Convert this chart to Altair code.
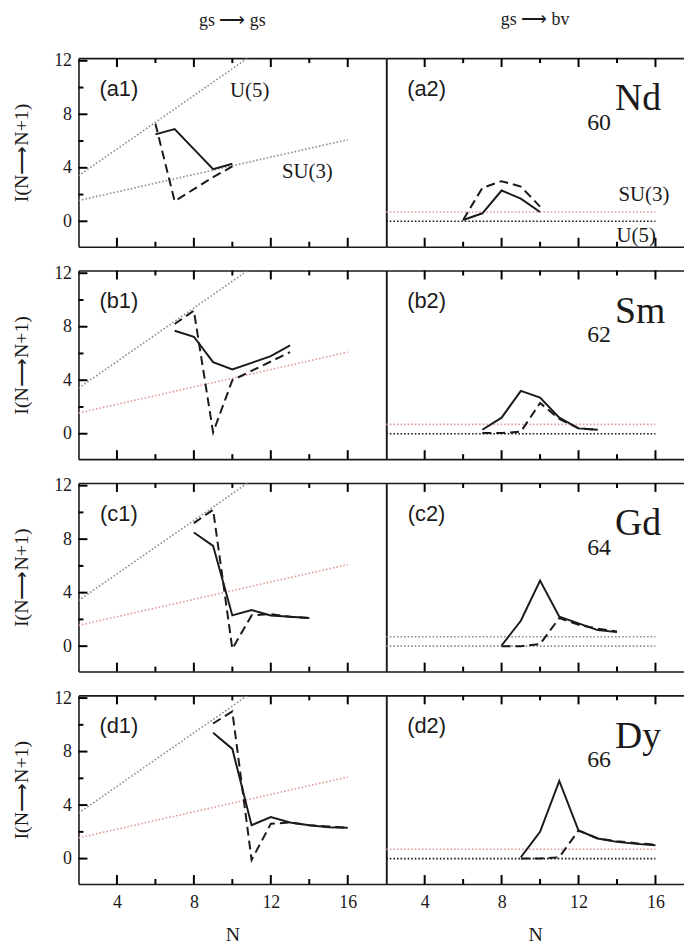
import altair as alt
import pandas as pd

SERIF = "Liberation Serif"
SANS = "Liberation Sans"
INK = "#1a1a1a"
GRAY = "#8c8c8c"
PINK = "#e59a9a"

ELEMENTS = ["Nd", "Sm", "Gd", "Dy"]
Z_LABELS = ["60", "62", "64", "66"]
ROW_TAGS = ["a", "b", "c", "d"]
COL_TITLES = ["gs \u27f6 gs", "gs \u27f6 bv"]
Y_TITLE = "I(N\u27f6N+1)"

# gs -> gs  (left column)
GG_N = [[6, 7, 8, 9, 10],
        [7, 8, 9, 10, 11, 12, 13],
        [8, 9, 10, 11, 12, 13, 14],
        [9, 10, 11, 12, 13, 14, 15, 16]]
GG_SOLID = [[6.5, 6.9, 5.4, 3.9, 4.3],
            [7.7, 7.25, 5.35, 4.8, 5.3, 5.8, 6.6],
            [8.5, 7.5, 2.3, 2.7, 2.3, 2.2, 2.1],
            [9.4, 8.2, 2.5, 3.1, 2.7, 2.5, 2.35, 2.3]]
GG_DASH = [[7.3, 1.5, 2.4, 3.3, 4.1],
           [8.2, 9.2, 0.1, 4.0, 4.7, 5.4, 6.1],
           [9.2, 10.2, -0.2, 2.3, 2.4, 2.2, 2.1],
           [10.1, 11.0, -0.1, 2.6, 2.7, 2.5, 2.4, 2.3]]

# gs -> bv  (right column)
GB_N = GG_N
GB_SOLID = [[0.1, 0.6, 2.3, 1.7, 0.7],
            [0.3, 1.2, 3.2, 2.7, 1.2, 0.4, 0.3],
            [0.05, 1.9, 4.9, 2.2, 1.7, 1.2, 1.05],
            [0.1, 2.0, 5.8, 2.1, 1.5, 1.25, 1.1, 1.0]]
GB_DASH = [[0.1, 2.5, 3.0, 2.6, 1.1],
           [0.05, 0.05, 0.15, 2.3, 1.1, 0.4, 0.3],
           [0.0, 0.0, 0.15, 2.1, 1.6, 1.3, 1.1],
           [0.0, 0.0, 0.1, 2.1, 1.5, 1.3, 1.15, 1.05]]

# symmetry limits
U5_GG_N = [2, 11]
U5_GG_I = [3.4, 12.4]
SU3_GG_N = [2, 16]
SU3_GG_I = [1.55, 6.1]
LIM_GB_N = [2, 16]
SU3_GB_I = [0.7, 0.7]
U5_GB_I = [0.0, 0.0]

SU3_GG_COLOR = [GRAY, PINK, PINK, PINK]
U5_GG_COLOR = [GRAY, GRAY, GRAY, GRAY]
SU3_GB_COLOR = [PINK, PINK, GRAY, PINK]
U5_GB_COLOR = [INK, INK, GRAY, INK]

# text annotations (first row only)
ANN_GG = {"t": ["U(5)", "SU(3)"], "N": [10.9, 13.9], "I": [9.75, 3.7]}
ANN_GB = {"t": ["SU(3)", "U(5)"], "N": [15.4, 15.0], "I": [2.0, -1.1]}
PANEL_LABEL_POS = (4.1, 9.9)
ELEM_POS = (13.9, 8.3)
Z_POS = (12.45, 6.85)

X_MAJ = [4, 8, 12, 16]
X_MIN = [6, 10, 14]
Y_MAJ = [0, 4, 8, 12]
Y_MIN = [2, 6, 10]
Y_DOM = [-1.9, 12.2]
W_LEFT, W_RIGHT, H = 310, 300, 190
XR_MAX = 2 + W_RIGHT * 16 / W_LEFT
MAJ, MINR = 9, 5          # tick lengths in px


def dom_axis(orient, values=None, labels=False, title=None, **kw):
    args = dict(orient=orient, domain=True, domainColor=INK, domainWidth=1.6,
                ticks=False, labels=labels, grid=False, minExtent=0, title=title)
    if values is not None:
        args["values"] = values
    args.update(kw)
    return alt.Axis(**args)


def panel(r, c):
    left = c == 0
    bottom = r == 3
    xdom = [2, 18] if left else [2, XR_MAX]
    W = W_LEFT if left else W_RIGHT
    xs = alt.Scale(domain=xdom, nice=False, zero=False)
    ys = alt.Scale(domain=Y_DOM, nice=False, zero=False)
    upx_y = (Y_DOM[1] - Y_DOM[0]) / H
    upx_x = (xdom[1] - xdom[0]) / W

    if bottom:
        xa0 = dom_axis("bottom", X_MAJ, labels=True, title="N", labelPadding=10, titlePadding=13)
    else:
        xa0 = dom_axis("bottom")
    x_axes = [xa0, dom_axis("top")]
    if left:
        y_axes = [dom_axis("left", Y_MAJ, labels=True, title=Y_TITLE,
                           labelPadding=7, titlePadding=22),
                  dom_axis("right")]
    else:
        y_axes = [dom_axis("left"), None]

    layers = []

    def add(chart_base, idx=None):
        xa = x_axes[idx] if idx is not None and idx < len(x_axes) else None
        ya = y_axes[idx] if idx is not None and idx < len(y_axes) else None
        layers.append(chart_base.encode(
            x=alt.X("N:Q", scale=xs, axis=xa),
            y=alt.Y("I:Q", scale=ys, axis=ya)))

    if left:
        ref1 = pd.DataFrame({"N": U5_GG_N, "I": U5_GG_I})
        ref2 = pd.DataFrame({"N": SU3_GG_N, "I": SU3_GG_I})
        col1, col2 = U5_GG_COLOR[r], SU3_GG_COLOR[r]
        Ns, sol, das = GG_N[r], GG_SOLID[r], GG_DASH[r]
        ann = ANN_GG if r == 0 else None
    else:
        ref1 = pd.DataFrame({"N": LIM_GB_N, "I": U5_GB_I})
        ref2 = pd.DataFrame({"N": LIM_GB_N, "I": SU3_GB_I})
        col1, col2 = U5_GB_COLOR[r], SU3_GB_COLOR[r]
        Ns, sol, das = GB_N[r], GB_SOLID[r], GB_DASH[r]
        ann = ANN_GB if r == 0 else None

    dot = dict(strokeWidth=1.6, strokeDash=[1.6, 2.0], clip=True)
    add(alt.Chart(ref1).mark_line(color=col1, **dot), 0)
    add(alt.Chart(ref2).mark_line(color=col2, **dot), 1)
    add(alt.Chart(pd.DataFrame({"N": Ns, "I": das})).mark_line(
        color=INK, strokeWidth=2.0, strokeDash=[9, 5], clip=True))
    add(alt.Chart(pd.DataFrame({"N": Ns, "I": sol})).mark_line(
        color=INK, strokeWidth=2.0, clip=True))
    add(alt.Chart(pd.DataFrame({"N": [PANEL_LABEL_POS[0]], "I": [PANEL_LABEL_POS[1]],
                                "t": [f"({ROW_TAGS[r]}{c + 1})"]})).mark_text(
        font=SANS, fontSize=22, color=INK, align="center", baseline="middle").encode(
        text="t:N"))
    if ann is not None:
        add(alt.Chart(pd.DataFrame(ann)).mark_text(
            font=SERIF, fontSize=21, color=INK, align="center", baseline="middle").encode(
            text="t:N"))
    if not left:
        add(alt.Chart(pd.DataFrame({"N": [ELEM_POS[0]], "I": [ELEM_POS[1]],
                                    "t": [ELEMENTS[r]]})).mark_text(
            font=SERIF, fontSize=38, color=INK, align="left", baseline="alphabetic").encode(
            text="t:N"))
        add(alt.Chart(pd.DataFrame({"N": [Z_POS[0]], "I": [Z_POS[1]],
                                    "t": [Z_LABELS[r]]})).mark_text(
            font=SERIF, fontSize=24, color=INK, align="left", baseline="alphabetic").encode(
            text="t:N"))

    # inward tick marks drawn as short rules at the frame (on top)
    rows_t = []
    for vals, L in ((X_MAJ, MAJ), (X_MIN, MINR)):
        for v in vals:
            rows_t.append((v, v, Y_DOM[0], Y_DOM[0] + L * upx_y))
            rows_t.append((v, v, Y_DOM[1], Y_DOM[1] - L * upx_y))
    if left:
        for vals, L in ((Y_MAJ, MAJ), (Y_MIN, MINR)):
            for v in vals:
                rows_t.append((xdom[0], xdom[0] + L * upx_x, v, v))
    tdf = pd.DataFrame(rows_t, columns=["N", "N2", "I", "I2"])
    layers.append(alt.Chart(tdf).mark_rule(color="#000000", strokeWidth=2, opacity=1).encode(
        x=alt.X("N:Q", scale=xs, axis=None), x2="N2:Q",
        y=alt.Y("I:Q", scale=ys, axis=None), y2="I2:Q"))

    props = dict(width=W, height=H)
    if r == 0:
        props["title"] = alt.TitleParams(COL_TITLES[c], font=SERIF, fontSize=18,
                                         fontWeight="normal", color=INK,
                                         offset=22 if left else 28, anchor="middle")
    return alt.layer(*layers).resolve_axis(x="independent", y="independent").properties(**props)


rows = [alt.hconcat(panel(r, 0), panel(r, 1), spacing=0) for r in range(4)]
chart = alt.vconcat(*rows, spacing=16).properties(
    padding={"left": 4, "top": 0, "right": 0, "bottom": 2}
).configure_view(strokeWidth=0, strokeOpacity=0).configure_axis(
    labelFont=SERIF, labelFontSize=18, labelColor=INK,
    titleFont=SERIF, titleFontSize=20, titleFontWeight="normal", titleColor=INK
)

chart.save("out.html", embed_options={"renderer": "svg", "actions": False})
